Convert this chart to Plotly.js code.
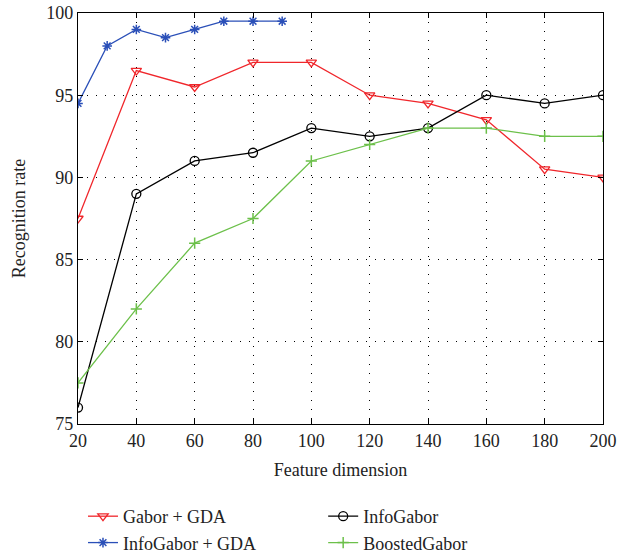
<!DOCTYPE html>
<html><head><meta charset="utf-8">
<script src="https://cdn.plot.ly/plotly-3.0.1.min.js"></script>
<style>body{margin:0;background:#fff}#chart{width:618px;height:556px}</style>
</head><body><div id="chart"></div>
<script>
const xMain = [20, 40, 60, 80, 100, 120, 140, 160, 180, 200];
const xInfoGDA = [20, 30, 40, 50, 60, 70, 80, 90];
const gaborGDA = [87.5, 96.5, 95.5, 97, 97, 95, 94.5, 93.5, 90.5, 90];
const infoGaborGDA = [94.5, 98, 99, 98.5, 99, 99.5, 99.5, 99.5];
const infoGabor = [76, 89, 91, 91.5, 93, 92.5, 93, 95, 94.5, 95];
const boostedGabor = [77.5, 82, 86, 87.5, 91, 92, 93, 93, 92.5, 92.5];
const xTicks = [20, 40, 60, 80, 100, 120, 140, 160, 180, 200];
const yTicks = [75, 80, 85, 90, 95, 100];

const fam = 'Liberation Serif, Times New Roman, serif';
const tickFont = {family: fam, size: 18, color: '#222'};
const titleFont = {family: fam, size: 18, color: '#222'};
const legFont = {family: fam, size: 18, color: '#222'};
const traces = [
  {x: xMain, y: gaborGDA, name: 'Gabor + GDA', mode: 'lines+markers', legend: 'legend',
   line: {color: '#f0262b', width: 1.3},
   marker: {symbol: 'triangle-down-open', size: 9, color: '#f0262b', line: {width: 1.3}}},
  {x: xInfoGDA, y: infoGaborGDA, name: 'InfoGabor + GDA', mode: 'lines+markers', legend: 'legend',
   line: {color: '#2a4fb8', width: 1.3},
   marker: {symbol: 'asterisk-open', size: 8, color: '#2a4fb8', line: {width: 1.5, color: '#2a4fb8'}}},
  {x: xMain, y: infoGabor, name: 'InfoGabor', mode: 'lines+markers', legend: 'legend2',
   line: {color: '#000000', width: 1.3},
   marker: {symbol: 'circle-open', size: 9, color: '#000000', line: {width: 1.3}}},
  {x: xMain, y: boostedGabor, name: 'BoostedGabor', mode: 'lines+markers', legend: 'legend2',
   line: {color: '#6cc04a', width: 1.3},
   marker: {symbol: 'cross-thin-open', size: 8, color: '#6cc04a', line: {width: 1.5, color: '#6cc04a'}}}
];
const axisCommon = {
  showline: true, mirror: 'ticks', linecolor: '#000', linewidth: 1.3,
  ticks: 'inside', ticklen: 5, tickcolor: '#000',
  showgrid: true, gridcolor: '#000', gridwidth: 1, griddash: '1px,8px',
  zeroline: false, tickfont: tickFont
};
const legCommon = {orientation: 'v', xanchor: 'left', y: -0.18, yanchor: 'top',
  font: legFont, tracegroupgap: 0, bgcolor: 'rgba(0,0,0,0)'};
const layout = {
  width: 618, height: 556,
  margin: {l: 78, r: 15, t: 13, b: 132, autoexpand: false},
  paper_bgcolor: '#fff', plot_bgcolor: '#fff',
  font: tickFont,
  showlegend: true,
  xaxis: Object.assign({}, axisCommon, {range: [20, 200], tickvals: xTicks,
    title: {text: 'Feature dimension', font: titleFont, standoff: 13}}),
  yaxis: Object.assign({}, axisCommon, {range: [75, 100], tickvals: yTicks,
    title: {text: 'Recognition rate', font: titleFont, standoff: 15}}),
  legend: Object.assign({}, legCommon, {x: 0.0095}),
  legend2: Object.assign({}, legCommon, {x: 0.467})
};
Plotly.newPlot('chart', traces, layout, {displayModeBar: false});
</script></body></html>
